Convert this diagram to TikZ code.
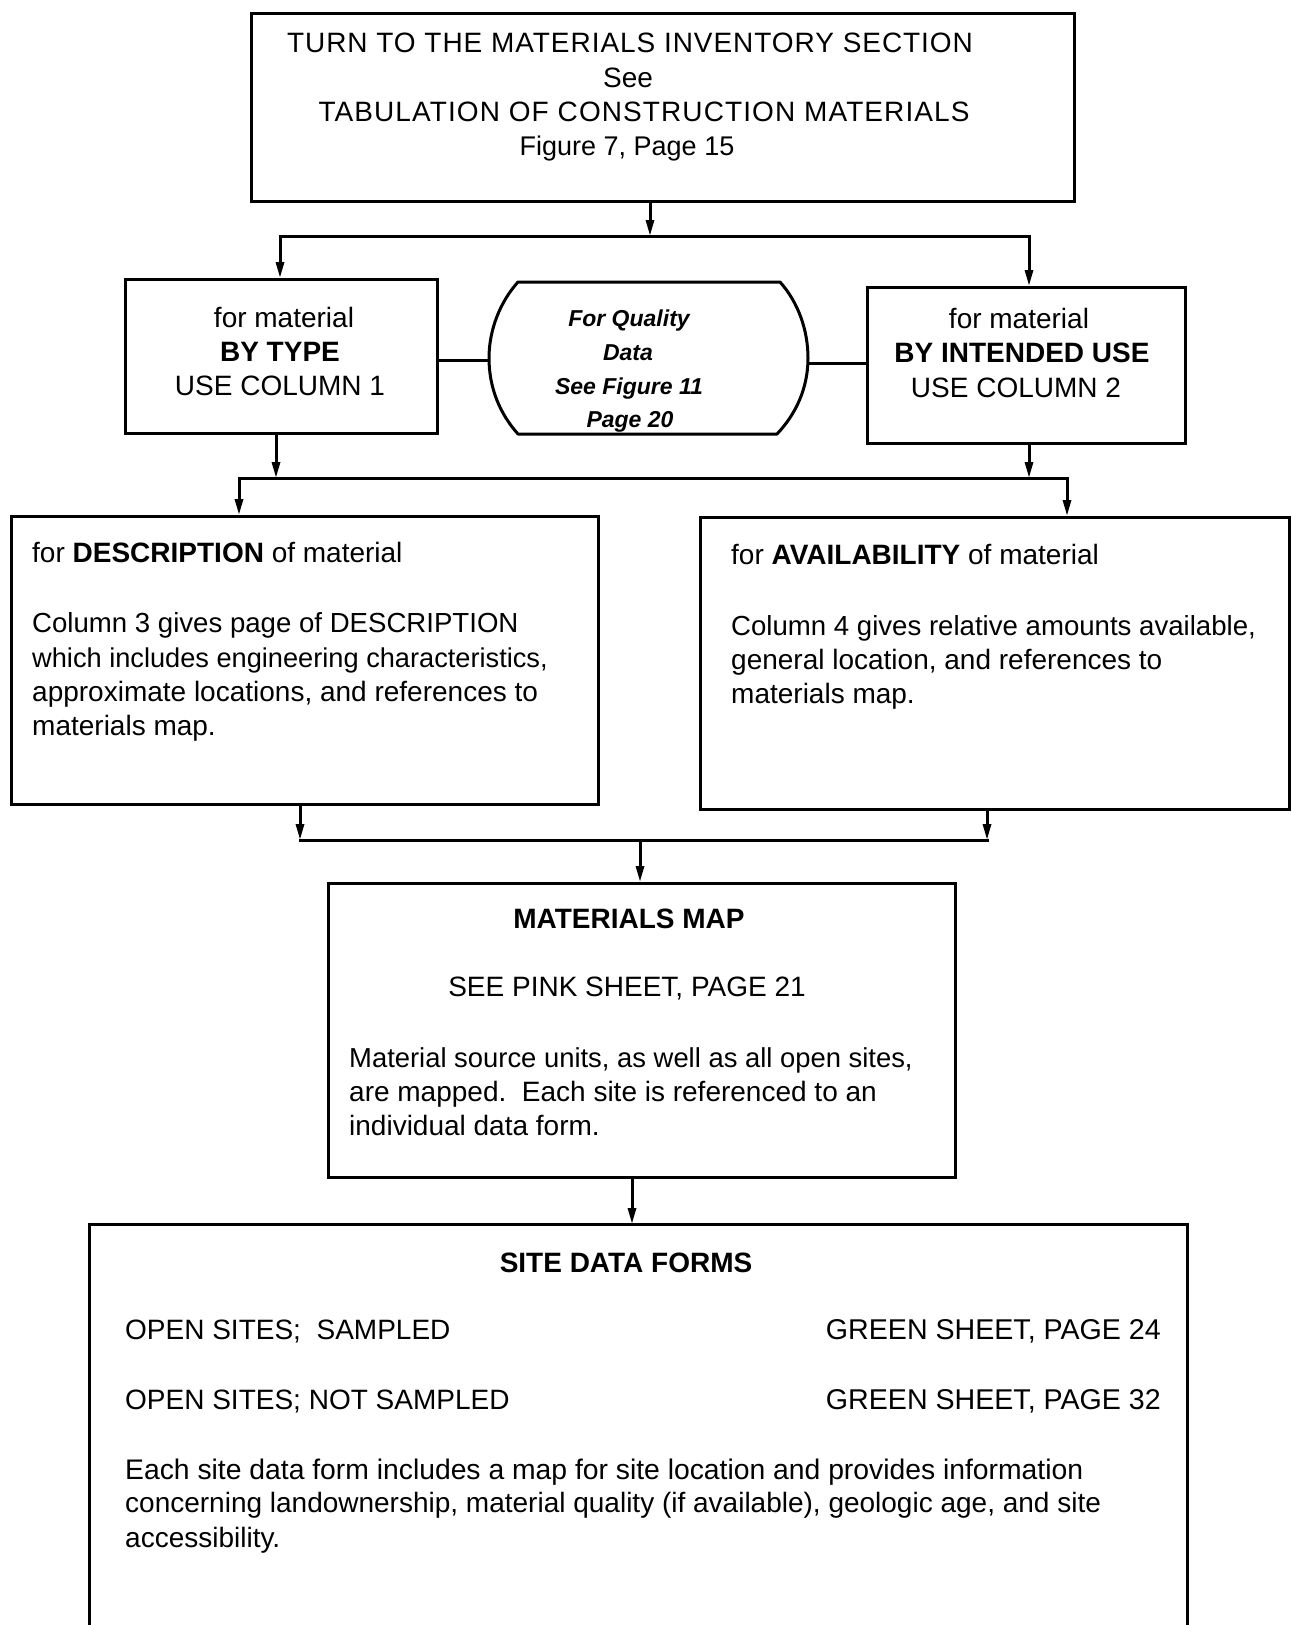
\documentclass[tikz,border=0pt]{standalone}
\usepackage{fontspec}
\setmainfont{Liberation Sans}
\usetikzlibrary{arrows.meta}
\begin{document}
\begin{tikzpicture}[x=1pt,y=-1pt,
  ln/.style={line width=3pt, line cap=rect},
  arr/.style={line width=3pt, -{Triangle[length=16pt,width=8pt]}},
  box/.style={draw, line width=3pt, inner sep=0pt, anchor=north west},
  txt/.style={font=\fontsize{28}{34}\selectfont, inner sep=0pt},
  qtxt/.style={font=\fontsize{23}{28}\selectfont\bfseries\itshape, inner sep=0pt, anchor=base}]
\useasboundingbox (0,0) rectangle (1291,1625);

% boxes
\node[box, minimum width=823pt, minimum height=188pt] (top) at (250,12) {};
\node[box, minimum width=312pt, minimum height=154pt] (lbox) at (124,278) {};
\node[box, minimum width=318pt, minimum height=156pt] (rbox) at (866,286) {};
\node[box, minimum width=587pt, minimum height=288pt] (desc) at (10,515) {};
\node[box, minimum width=589pt, minimum height=292pt] (avail) at (699,516) {};
\node[box, minimum width=627pt, minimum height=294pt] (map) at (327,882) {};
\node[box, draw=none, minimum width=1095pt, minimum height=401pt] (site) at (89,1224) {};
\draw[ln, line cap=butt] (site.south west) -- (site.north west) -- (site.north east) -- (site.south east);

% quality shape
\node[inner sep=0pt, minimum width=319pt, minimum height=152pt] (qual) at (648.5,358) {};
\draw[line width=3pt, line join=round] (518,282) -- (780,282)
  .. controls (798,302) and (808,330) .. (808,358)
  .. controls (808,388) and (796,414) .. (777,434) -- (518,434)
  .. controls (500,414) and (489,388) .. (489,358)
  .. controls (489,330) and (500,302) .. (518,282) -- cycle;

% top box text
\node[txt, anchor=base] (t1) at (630,52) {\addfontfeature{LetterSpace=3.4}TURN TO THE MATERIALS INVENTORY SECTION};
\node[txt, anchor=base] (t2) at (628,87) {See};
\node[txt, anchor=base] (t3) at (644,121) {\addfontfeature{LetterSpace=3.9}TABULATION OF CONSTRUCTION MATERIALS};
\node[txt, anchor=base, font=\fontsize{27}{34}\selectfont] (t4) at (627,155) {Figure 7, Page 15};

% left box text
\node[txt, anchor=base] (l1) at (284,327) {for material};
\node[txt, anchor=base, font=\fontsize{28}{34}\selectfont\bfseries] (l2) at (280,361) {BY TYPE};
\node[txt, anchor=base] (l3) at (280,395) {USE COLUMN 1};

% quality text
\node[qtxt] (q1) at (629,326) {For Quality};
\node[qtxt] (q2) at (628,360) {Data};
\node[qtxt] (q3) at (629,394) {See Figure 11};
\node[qtxt] (q4) at (630,427) {Page 20};

% right box text
\node[txt, anchor=base] (r1) at (1019,328) {for material};
\node[txt, anchor=base, font=\fontsize{28}{34}\selectfont\bfseries] (r2) at (1022,362) {BY INTENDED USE};
\node[txt, anchor=base] (r3) at (1016,397) {USE COLUMN 2};

% description text
\node[txt, anchor=base west] (d0) at (32,562) {for \textbf{DESCRIPTION} of material};
\node[txt, anchor=base west, font=\fontsize{27.6}{34}\selectfont] (d1) at (32,632) {Column 3 gives page of DESCRIPTION};
\node[txt, anchor=base west, font=\fontsize{27.2}{34}\selectfont] (d2) at (32,667) {which includes engineering characteristics,};
\node[txt, anchor=base west] (d3) at (32,701) {approximate locations, and references to};
\node[txt, anchor=base west] (d4) at (32,735) {materials map.};

% availability text
\node[txt, anchor=base west] (a0) at (731,564) {for \textbf{AVAILABILITY} of material};
\node[txt, anchor=base west, font=\fontsize{27.6}{34}\selectfont] (a1) at (731,635) {Column 4 gives relative amounts available,};
\node[txt, anchor=base west] (a2) at (731,669) {general location, and references to};
\node[txt, anchor=base west] (a3) at (731,703) {materials map.};

% map text
\node[txt, anchor=base, font=\fontsize{28}{34}\selectfont\bfseries] (m0) at (629,928) {MATERIALS MAP};
\node[txt, anchor=base] (m1) at (627,996) {SEE PINK SHEET, PAGE 21};
\node[txt, anchor=base west, font=\fontsize{27.4}{34}\selectfont] (m2) at (349,1067) {Material source units, as well as all open sites,};
\node[txt, anchor=base west] (m3) at (349,1101) {are mapped.\ \ Each site is referenced to an};
\node[txt, anchor=base west] (m4) at (349,1135) {individual data form.};

% site text
\node[txt, anchor=base, font=\fontsize{28}{34}\selectfont\bfseries] (s0) at (626,1272) {SITE DATA FORMS};
\node[txt, anchor=base west] (s1) at (125,1339) {OPEN SITES;\ \ SAMPLED};
\node[txt, anchor=base east, font=\fontsize{28.6}{34}\selectfont] (s1r) at (1161,1339) {GREEN SHEET, PAGE 24};
\node[txt, anchor=base west] (s2) at (125,1409) {OPEN SITES; NOT SAMPLED};
\node[txt, anchor=base east, font=\fontsize{28.6}{34}\selectfont] (s2r) at (1161,1409) {GREEN SHEET, PAGE 32};
\node[txt, anchor=base west, font=\fontsize{28.3}{34}\selectfont] (s3) at (125,1479) {Each site data form includes a map for site location and provides information};
\node[txt, anchor=base west] (s4) at (125,1512) {concerning landownership, material quality (if available), geologic age, and site};
\node[txt, anchor=base west] (s5) at (125,1547) {accessibility.};

% connectors
\coordinate (j1) at (650,236);
\coordinate (j1L) at (280,236);
\coordinate (j1R) at (1029,236);
\draw[arr] (top.south -| j1) -- (j1);
\draw[ln] (j1L) -- (j1R);
\draw[arr] (j1L) -- (lbox.north -| j1L);
\draw[arr] (j1R) -- (rbox.north -| j1R);

\coordinate (qL) at (489,360);
\coordinate (qR) at (808,363);
\draw[ln, line cap=butt] (lbox.east |- qL) -- (qL);
\draw[ln, line cap=butt] (qR) -- (rbox.west |- qR);

\coordinate (j2a) at (276,478);
\coordinate (j2b) at (1029,478);
\coordinate (j2L) at (239,478);
\coordinate (j2R) at (1067,478);
\draw[arr] (lbox.south -| j2a) -- (j2a);
\draw[arr] (rbox.south -| j2b) -- (j2b);
\draw[ln] (j2L) -- (j2R);
\draw[arr] (j2L) -- (desc.north -| j2L);
\draw[arr] (j2R) -- (avail.north -| j2R);

\coordinate (j3a) at (300,840);
\coordinate (j3b) at (987,840);
\coordinate (j3m) at (640,840);
\draw[arr] (desc.south -| j3a) -- (j3a);
\draw[arr] (avail.south -| j3b) -- (j3b);
\draw[ln] (j3a) -- (j3b);
\draw[arr] (j3m) -- (map.north -| j3m);

\coordinate (j4) at (632,1200);
\draw[arr] (map.south -| j4) -- (site.north -| j4);
\end{tikzpicture}
\end{document}
